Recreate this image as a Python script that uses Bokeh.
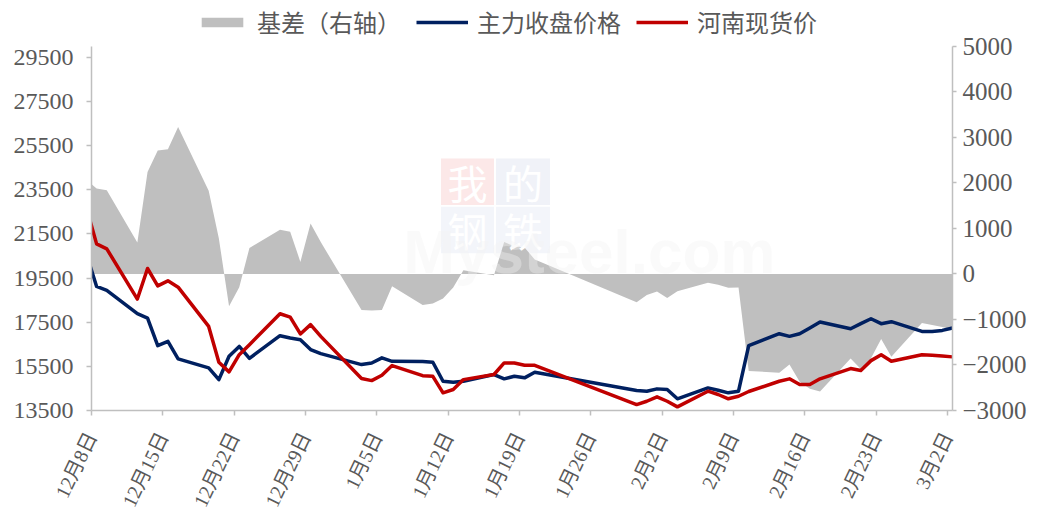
import pandas as pd
from bokeh.plotting import figure
from bokeh.models import (Range1d, LinearAxis, FixedTicker, Legend, LegendItem,
                          ColumnDataSource, Label)
from bokeh.embed import file_html
from bokeh.resources import INLINE

# ---------------- data ----------------
dates = ["2022-12-07", "2022-12-08", "2022-12-09", "2022-12-12", "2022-12-13", "2022-12-14",
         "2022-12-15", "2022-12-16", "2022-12-19", "2022-12-20", "2022-12-21", "2022-12-22",
         "2022-12-23", "2022-12-26", "2022-12-27", "2022-12-28", "2022-12-29", "2022-12-30",
         "2023-01-03", "2023-01-04", "2023-01-05", "2023-01-06", "2023-01-09", "2023-01-10",
         "2023-01-11", "2023-01-12", "2023-01-13", "2023-01-16", "2023-01-17", "2023-01-18",
         "2023-01-19", "2023-01-20", "2023-01-30", "2023-01-31", "2023-02-01", "2023-02-02",
         "2023-02-03", "2023-02-06", "2023-02-07", "2023-02-08", "2023-02-09", "2023-02-10",
         "2023-02-13", "2023-02-14", "2023-02-15", "2023-02-16", "2023-02-17", "2023-02-20",
         "2023-02-21", "2023-02-22", "2023-02-23", "2023-02-24", "2023-02-27", "2023-02-28",
         "2023-03-01", "2023-03-02"]

futures_close = [20600, 19120, 18940, 17890, 17690, 16440, 16635, 15840, 15430, 14900, 15955, 16405,
                 15865, 16890, 16785, 16710, 16260, 16075, 15580, 15655, 15885, 15730, 15715, 15685,
                 14825, 14780, 14825, 15130, 14935, 15050, 14980, 15230, 14405, 14375, 14480, 14450,
                 14030, 14525, 14420, 14300, 14375, 16440, 16980, 16860, 16980, 17240, 17510, 17205,
                 17435, 17660, 17435, 17525, 17085, 17085, 17130, 17240]

henan_spot = [22700, 21050, 20825, 18550, 19935, 19150, 19375, 19090, 17310, 15685, 15250, 16030,
              16485, 17885, 17735, 16970, 17390, 16860, 14950, 14855, 15095, 15535, 15080, 15050,
              14300, 14450, 14900, 15130, 15655, 15655, 15550, 15550, 13770, 13920, 14120, 13920,
              13665, 14375, 14225, 14030, 14145, 14360, 14825, 14935, 14675, 14675, 14935, 15400,
              15310, 15760, 16030, 15730, 16030, 16000, 15965, 15930]

basis = [2070, 1880, 1840, 690, 2240, 2710, 2740, 3230, 1830, 780, -710, -290,
         570, 970, 930, 265, 1110, 700, -790, -805, -790, -270, -680, -650,
         -540, -300, 80, -30, 700, 610, 580, 320, -620, -460, -385, -530,
         -380, -195, -235, -305, -300, -2130, -2170, -1990, -2370, -2520, -2580, -1860,
         -2090, -1850, -1430, -1820, -1075, -1120, -1165, -1220]

tick_labels = ["12月8日", "12月15日", "12月22日", "12月29日", "1月5日", "1月12日", "1月19日",
               "1月26日", "2月2日", "2月9日", "2月16日", "2月23日", "3月2日"]
left_ticks = [13500, 15500, 17500, 19500, 21500, 23500, 25500, 27500, 29500]
right_ticks = [-3000, -2000, -1000, 0, 1000, 2000, 3000, 4000, 5000]

series_names = ["基差（右轴）", "主力收盘价格", "河南现货价"]

# ---------------- layout ----------------
start = pd.Timestamp("2022-12-08")
x = [(pd.Timestamp(d) - start).days + 0.5 for d in dates]
tick_pos = [7 * i for i in range(len(tick_labels))]

src = ColumnDataSource(dict(x=x, fut=futures_close, spot=henan_spot, basis=basis,
                            zero=[0] * len(x)))

BLUE = "#002060"
RED = "#C00000"
GRAY = "#BFBFBF"
AXIS = "#BFBFBF"
TXT = "#595959"
NUM_FONT = "'Liberation Serif', 'Noto Sans CJK SC'"

# plotting area: 365 px for the axis span, plus 46 px headroom (legend) inside the frame
AX_H, HEAD = 365, 46
L_MIN, L_MAX = 13500, 30000
R_MIN, R_MAX = -3000, 5000
l_top = L_MAX + HEAD * (L_MAX - L_MIN) / AX_H
r_top = R_MAX + HEAD * (R_MAX - R_MIN) / AX_H

p = figure(width=1030, height=518, output_backend="svg", toolbar_location=None,
           x_range=Range1d(0, 84.5), y_range=Range1d(L_MIN, l_top),
           min_border_left=91, min_border_right=78, min_border_top=0, min_border_bottom=99)
p.extra_y_ranges = {"right": Range1d(R_MIN, r_top)}
p.outline_line_color = None
p.xgrid.visible = False
p.ygrid.visible = False
p.background_fill_color = "white"
p.border_fill_color = "white"

# watermark
p.quad(left=[34.3, 39.7, 34.3, 39.7], right=[39.5, 45.0, 39.5, 45.0],
       bottom=[22813, 22813, 20630, 20630], top=[24925, 24925, 22736, 22736],
       fill_color=["#FCE8E8", "#F0F2F8", "#F3F5FA", "#F3F5FA"], line_color=None)
for ch, cx, cy in [("我", 36.9, 23870), ("的", 42.35, 23870), ("钢", 36.9, 21683), ("铁", 42.35, 21683)]:
    p.add_layout(Label(x=cx, y=cy, text=ch, text_font="Noto Sans CJK SC",
                       text_font_size="40px", text_color="white", text_align="center",
                       text_baseline="middle"))

area = p.varea(x="x", y1="zero", y2="basis", source=src, y_range_name="right", fill_color=GRAY)
p.add_layout(Label(x=30.6, y=19150, text="Mysteel.com", text_font="Liberation Sans",
                   text_font_size="62px", text_font_style="bold", text_color="#F2F2F2",
                   text_alpha=0.4))
l_fut = p.line(x="x", y="fut", source=src, line_color=BLUE, line_width=3.5, line_join="round")
l_spot = p.line(x="x", y="spot", source=src, line_color=RED, line_width=3.5, line_join="round")

# axes
xa = p.xaxis[0]
xa.ticker = FixedTicker(ticks=tick_pos)
xa.major_label_overrides = {t: lab for t, lab in zip(tick_pos, tick_labels)}
xa.major_label_orientation = 1.12
xa.major_label_text_font = NUM_FONT
xa.major_label_text_font_size = "20px"
xa.major_label_text_color = TXT
xa.major_label_standoff = 18

ya = p.yaxis[0]
ya.ticker = FixedTicker(ticks=left_ticks)
ya.bounds = (L_MIN, L_MAX)
ya.major_label_text_font = NUM_FONT
ya.major_label_text_font_size = "24px"
ya.major_label_text_color = TXT
ya.major_label_standoff = 13

ra = LinearAxis(y_range_name="right", ticker=FixedTicker(ticks=right_ticks), bounds=(R_MIN, R_MAX))
ra.major_label_text_font = NUM_FONT
ra.major_label_text_font_size = "25px"
ra.major_label_text_color = TXT
ra.major_label_standoff = 6
p.add_layout(ra, "right")

for ax in (xa, ya, ra):
    ax.axis_line_color = AXIS
    ax.axis_line_width = 1.5
    ax.major_tick_line_color = AXIS
    ax.major_tick_line_width = 1.5
    ax.major_tick_out = 5
    ax.major_tick_in = 0
    ax.minor_tick_line_color = None
ra.major_tick_out = 4

legend = Legend(items=[LegendItem(label=series_names[0], renderers=[area]),
                       LegendItem(label=series_names[1], renderers=[l_fut]),
                       LegendItem(label=series_names[2], renderers=[l_spot])],
                location=(105, 371), orientation="horizontal",
                label_text_font="Noto Sans CJK SC", label_text_font_size="24px",
                label_text_color=TXT, glyph_width=52, glyph_height=12, label_standoff=9,
                spacing=15, padding=0, margin=0, border_line_color=None,
                background_fill_alpha=0)
p.add_layout(legend, "center")

open("out.html", "w").write(file_html(p, INLINE))
